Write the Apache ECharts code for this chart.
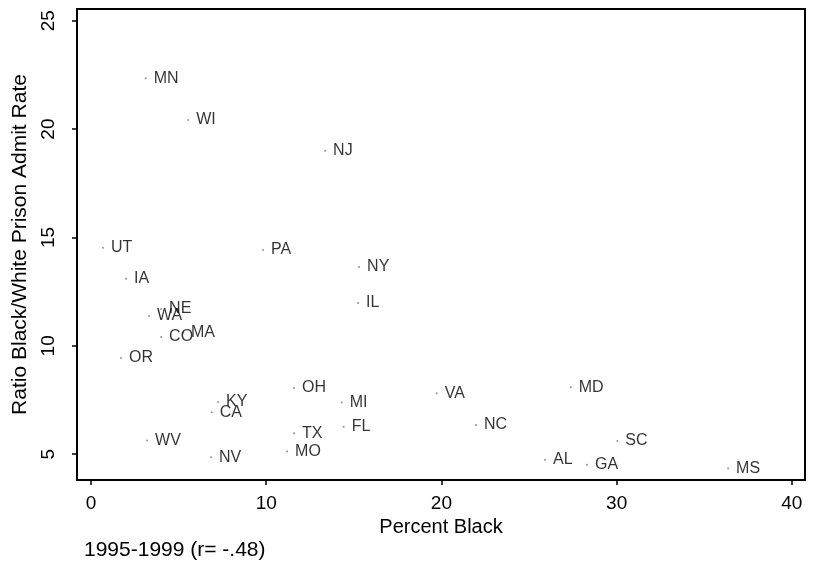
<!DOCTYPE html>
<html>
<head>
<meta charset="utf-8">
<script src="https://cdn.jsdelivr.net/npm/echarts@6/dist/echarts.min.js"></script>
<style>
html,body{margin:0;padding:0;background:#fff;}
#chart{width:814px;height:566px;}
</style>
</head>
<body>
<div id="chart"></div>
<script>
var states = ['MN','WI','NJ','UT','IA','NE','WA','CO','MA','OR','PA','NY','IL','OH','MI','VA','FL','KY','CA','WV','NV','TX','MO','MD','NC','SC','AL','GA','MS'];
var percentBlack = [3.12,5.55,13.36,0.68,2.0,4.0,3.31,4.0,5.25,1.71,9.82,15.3,15.24,11.59,14.31,19.73,14.42,7.25,6.89,3.2,6.85,11.59,11.19,27.38,21.97,30.04,25.91,28.31,36.36];
var ratio = [22.34,20.42,19.0,14.52,13.09,11.7,11.38,10.41,10.6,9.44,14.42,13.64,11.98,8.06,7.38,7.81,6.27,7.41,6.94,5.63,4.86,5.97,5.12,8.09,6.35,5.61,4.74,4.51,4.35];
var xTicks = [0,10,20,30,40];
var yTicks = [5,10,15,20,25];
var xTitle = 'Percent Black';
var yTitle = 'Ratio Black/White Prison Admit Rate';
var note = '1995-1999 (r= -.48)';

var data = states.map(function(s,i){ return {name:s, value:[percentBlack[i], ratio[i]]}; });
var font = 'Liberation Sans, Arial, sans-serif';
var chart = echarts.init(document.getElementById('chart'));
chart.setOption({
  animation:false,
  backgroundColor:'#fff',
  grid:{left:77,top:9,right:9,bottom:86,show:true,borderColor:'#000',borderWidth:2,containLabel:false},
  xAxis:{
    type:'value', min:-0.8, max:40.75,
    name:xTitle, nameLocation:'middle', nameGap:27,
    nameTextStyle:{fontFamily:font,fontSize:20,color:'#000'},
    axisLine:{show:true,onZero:false,lineStyle:{color:'#000',width:2}},
    axisTick:{show:true,length:5,lineStyle:{color:'#000',width:1.5},customValues:xTicks},
    axisLabel:{fontFamily:font,fontSize:19,color:'#000',margin:14,customValues:xTicks},
    splitLine:{show:false}
  },
  yAxis:{
    type:'value', min:3.81, max:25.54,
    name:yTitle, nameLocation:'middle', nameGap:35,
    nameTextStyle:{fontFamily:font,fontSize:21,color:'#000'},
    axisLine:{show:true,onZero:false,lineStyle:{color:'#000',width:2}},
    axisTick:{show:true,length:5,lineStyle:{color:'#000',width:1.5},customValues:yTicks},
    axisLabel:{fontFamily:font,fontSize:19,color:'#000',margin:19,rotate:90,customValues:yTicks},
    splitLine:{show:false}
  },
  graphic:[{type:'text',left:84,top:540,style:{text:note,font:'21px Liberation Sans, Arial, sans-serif',fill:'#000'}}],
  series:[{
    type:'scatter',
    data:data,
    symbol:'circle',
    symbolSize:2,
    itemStyle:{color:'#777'},
    label:{show:true,position:'right',distance:7,formatter:'{b}',fontFamily:font,fontSize:16,color:'#000',textBorderWidth:0},
    labelLayout:{hideOverlap:false}
  }]
});
</script>
</body>
</html>
